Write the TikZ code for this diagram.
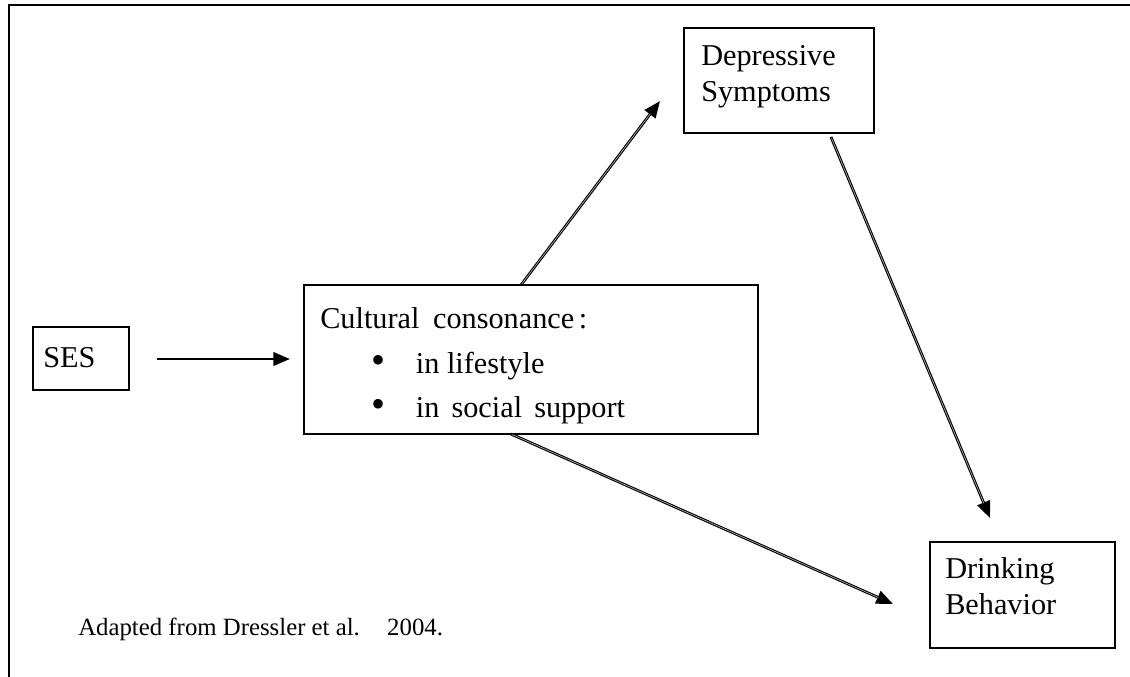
\documentclass[tikz,border=0pt]{standalone}
\usepackage{fontspec}
\setmainfont{Liberation Serif}
\usetikzlibrary{arrows.meta,fit}
\begin{document}
\begin{tikzpicture}[x=0.75pt,y=-0.75pt,
  box/.style={draw, line width=1.4pt, inner sep=0pt},
  lbl/.style={inner sep=0pt, anchor=base west, font=\fontsize{22.7}{27}\selectfont},
  sourcetext/.style={inner sep=0pt, anchor=base west, font=\fontsize{18.6}{22}\selectfont},
  link/.style={line width=2.1pt, -{Triangle[length=12.5pt,width=10pt]}},
  core/.style={line width=0.45pt, draw=gray!55, shorten >=12pt, shorten <=1pt},
]
\newcommand\bigbullet{{\fontsize{30}{30}\selectfont •}}
\useasboundingbox (0,0) rectangle (1130,677);

% page frame (top and left edges only)
\draw[line width=1.7pt] (9,677) -- (9,5) -- (1130,5);

% boxes
\node[box, fit={(33,327) (129,390)}] (ses) {};
\node[box, fit={(304,285) (758,434)}] (cc) {};
\node[box, fit={(684,28) (874,133)}] (dep) {};
\node[box, fit={(930,542) (1115,648)}] (drink) {};

% box texts
\node[lbl] (sesT) at (43,367) {SES};
\node[lbl] (ccT) at (320,328) {Cultural\hspace{0.45em}consonance\hspace{0.15em}:};
\node[lbl] (ccA) at (371,373) {\bigbullet\hspace{23pt}in lifestyle};
\node[lbl] (ccB) at (371,417) {\bigbullet\hspace{23pt}in\hspace{0.4em}social\hspace{0.4em}support};
\node[lbl] (depA) at (701,66) {Depressive};
\node[lbl] (depB) at (701,102) {Symptoms};
\node[lbl] (drA) at (945,578) {Drinking};
\node[lbl] (drB) at (945,614) {Behavior};

% caption
\node[sourcetext] (src) at (78,635) {Adapted from Dressler et al.\hspace{1.1em}2004.};

% connector end points
\coordinate (sesOut) at (157,359);
\coordinate (ccIn) at (290,359);
\coordinate (ccUp) at (521,285);
\coordinate (depIn) at (660,101);
\coordinate (depOut) at (831,137);
\coordinate (drTop) at (990,518);
\coordinate (ccLow) at (511,434);
\coordinate (drLeft) at (893,604);

% connectors
\draw[link] (sesOut) -- (ccIn);
\draw[link] (ccUp) -- (depIn);
\draw[core] (ccUp) -- (depIn);
\draw[link] (depOut) -- (drTop);
\draw[core] (depOut) -- (drTop);
\draw[link] (ccLow) -- (drLeft);
\draw[core] (ccLow) -- (drLeft);
\end{tikzpicture}
\end{document}
